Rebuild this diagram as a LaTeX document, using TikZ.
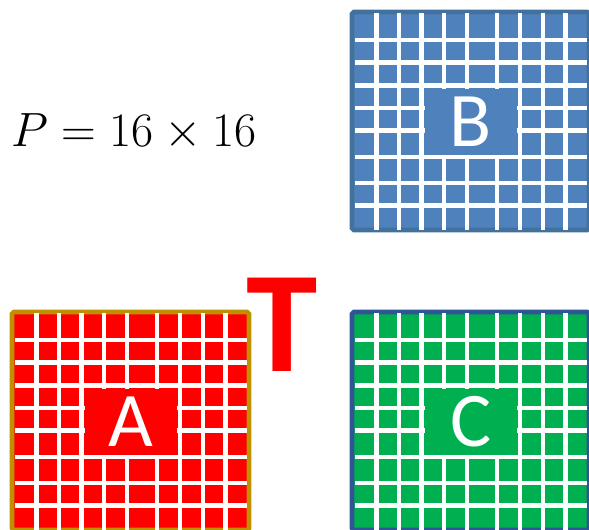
\documentclass[tikz,border=0pt]{standalone}
\usepackage{fontspec}
\setsansfont{Carlito}
\usepackage{tikz}
\usetikzlibrary{calc}
\definecolor{bluefill}{HTML}{4F81BD}
\definecolor{blueedge}{HTML}{41719C}
\definecolor{redfill}{HTML}{FF0000}
\definecolor{goldedge}{HTML}{BF9000}
\definecolor{greenfill}{HTML}{00B050}
\definecolor{navyedge}{HTML}{2F5597}
\tikzstyle{sq} = [rectangle, line width=2.6pt, rounded corners=1pt]
\tikzstyle{wl} = [draw=white, line width=2.3pt]
\tikzstyle{lbl} = [text=white, font=\sffamily\fontsize{44}{48}\selectfont, inner sep=0pt]

% one gridded square: name, top left corner, fill, edge, letter
\newcommand{\gridsq}[5]{%
	\begin{scope}[shift={#2}]
		\fill[#3] (0,0) rectangle (237,218);
		\draw[sq, draw=#4] (0,0) rectangle (237,218);
		\foreach \gx in {24.5,47,69.5,92,115,145,168,191,213.5}
		\draw[wl] (\gx,1) -- (\gx,218);
		\foreach \gy in {28,50.5,73.5,96,118.5,144.7,171.3,193.5}
		\draw[wl] (3,\gy) -- (235,\gy);
		\fill[#3] (73,77) rectangle (165,142.5);
		\node[lbl] (#1) at (119,110) {#5};
	\end{scope}}

\begin{document}
\begin{tikzpicture}[x=0.02cm,y=-0.02cm]
	\useasboundingbox (0,0) rectangle (589,529);
	\gridsq{b}{(352,12)}{bluefill}{blueedge}{B}
	\gridsq{a}{(12,312)}{redfill}{goldedge}{A}
	\gridsq{c}{(352,312)}{greenfill}{navyedge}{C}
	\node[anchor=base west, inner sep=0pt, font=\Huge, scale=1.1] (size) at (11,146.7) {$P = 16 \times 16$};
	\node[text=redfill, font=\sffamily\bfseries\fontsize{82}{90}\selectfont, inner sep=0pt] (tee) at (282,325) {T};
\end{tikzpicture}
\end{document}
